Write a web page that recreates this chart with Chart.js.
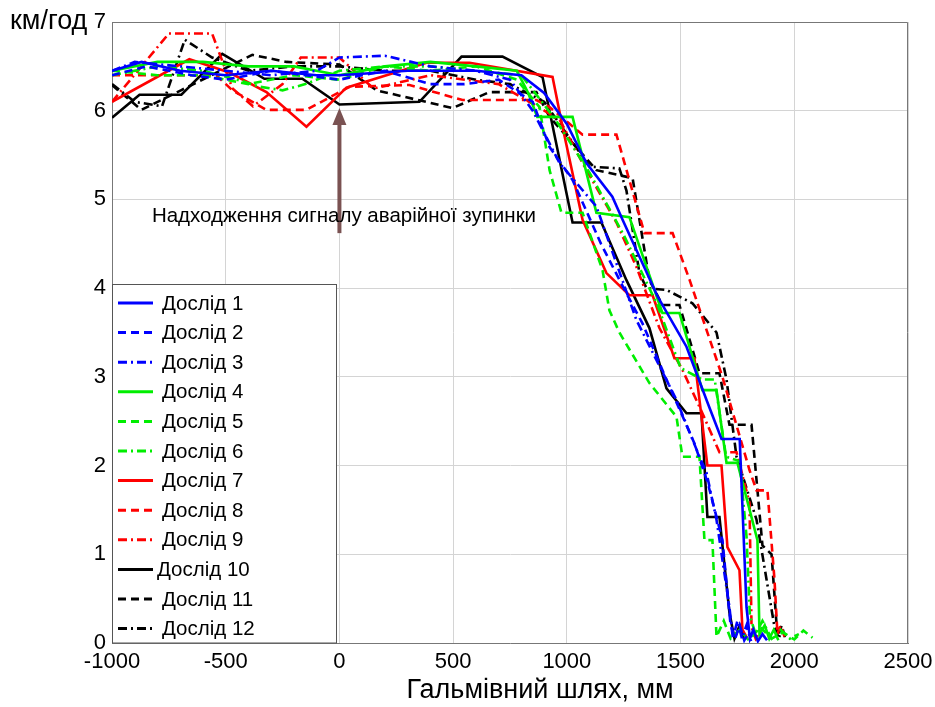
<!DOCTYPE html>
<html>
<head>
<meta charset="utf-8">
<script src="https://cdn.jsdelivr.net/npm/chart.js@4.4.0/dist/chart.umd.min.js"></script>
<style>
  body { margin: 0; background: #fff; }
</style>
</head>
<body>
<canvas id="brakeChart" width="935" height="707"></canvas>
<script>
// braking runs: [distance mm, speed km/h]
const trial1 = [[-1000,6.45],[-870,6.55],[-700,6.45],[-500,6.4],[-300,6.45],[-100,6.4],[0,6.4],[300,6.45],[600,6.45],[800,6.4],[900,6.2],[1000,5.85],[1086,5.41],[1200,5.03],[1245,4.77],[1400,3.9],[1526,3.34],[1620,2.7],[1680,2.3],[1760,2.3],[1790,0.4],[1805,0.05],[1820,0.15],[1840,0.02],[1860,0.1],[1880,0.03]];
const trial2 = [[-1000,6.4],[-850,6.5],[-650,6.4],[-500,6.35],[-300,6.45],[0,6.35],[200,6.45],[400,6.3],[550,6.3],[700,6.35],[850,6.1],[924,5.59],[1025,5.22],[1150,4.5],[1250,4.0],[1333,3.6],[1438,2.97],[1561,2.25],[1620,1.8],[1684,1.16],[1720,0.2],[1740,0.05],[1760,0.2],[1780,0.03],[1800,0.12]];
const trial3 = [[-1000,6.45],[-900,6.55],[-700,6.5],[-500,6.45],[-300,6.4],[-100,6.45],[0,6.6],[200,6.62],[400,6.5],[600,6.45],[750,6.35],[850,6.0],[968,5.41],[1130,4.92],[1306,3.64],[1482,2.74],[1583,2.1],[1614,1.92],[1658,1.39],[1715,0.4],[1730,0.05],[1750,0.25],[1770,0.05],[1790,0.2],[1810,0.02]];
const trial4 = [[-1000,6.45],[-800,6.55],[-600,6.55],[-400,6.5],[-200,6.5],[0,6.4],[200,6.5],[400,6.55],[600,6.5],[780,6.45],[830,6.2],[870,5.93],[1025,5.93],[1130,4.85],[1275,4.8],[1420,3.72],[1495,3.72],[1596,2.85],[1658,2.85],[1702,2.03],[1750,2.03],[1838,1.16],[1847,0.1],[1870,0.2],[1890,0.05],[1910,0.15],[1930,0.03]];
const trial5 = [[-1000,6.45],[-800,6.4],[-600,6.4],[-400,6.3],[-200,6.4],[0,6.35],[200,6.5],[400,6.45],[600,6.5],[780,6.35],[880,6.04],[924,5.33],[976,4.85],[1069,4.85],[1157,4.2],[1187,3.75],[1231,3.5],[1363,2.93],[1482,2.55],[1508,2.1],[1583,2.1],[1605,1.16],[1640,1.16],[1658,0.07],[1690,0.25],[1720,0.05],[1760,0.15],[1800,0.03],[1850,0.18],[1900,0.05],[1950,0.12],[2000,0.04],[2040,0.14],[2080,0.06]];
const trial6 = [[-1000,6.4],[-800,6.5],[-600,6.45],[-450,6.35],[-350,6.27],[-250,6.23],[-150,6.3],[0,6.45],[200,6.5],[400,6.5],[600,6.45],[800,6.4],[950,5.9],[1100,5.3],[1250,4.6],[1400,3.8],[1500,3.1],[1596,2.97],[1650,2.97],[1700,2.1],[1760,2.05],[1790,1.2],[1805,0.3],[1830,0.1],[1860,0.25],[1900,0.05],[1940,0.15],[1980,0.05],[2020,0.1]];
const trial7 = [[-1000,6.1],[-660,6.58],[-484,6.43],[-321,6.21],[-145,5.82],[31,6.26],[383,6.54],[572,6.54],[937,6.38],[981,5.82],[1069,4.77],[1174,4.17],[1275,3.92],[1377,3.92],[1473,3.21],[1561,3.21],[1618,2.0],[1680,2.0],[1706,1.08],[1759,0.82],[1772,0.15],[1794,0.05]];
const trial8 = [[-1000,6.4],[-541,6.4],[-471,6.23],[-321,6.01],[-145,6.01],[44,6.27],[308,6.29],[541,6.12],[866,6.12],[924,6.04],[1069,5.73],[1218,5.73],[1341,4.62],[1465,4.62],[1540,4.09],[1684,3.0],[1803,1.95],[1834,1.72],[1882,1.72],[1913,0.71],[1926,0.1],[1940,0.2],[1960,0.05]];
const trial9 = [[-1000,6.1],[-750,6.87],[-560,6.87],[-470,6.25],[-380,6.05],[-250,6.3],[-170,6.6],[0,6.6],[150,6.25],[400,6.4],[700,6.3],[968,5.9],[1069,5.41],[1218,4.74],[1306,4.24],[1407,3.55],[1508,3.08],[1596,2.59],[1671,2.15],[1746,2.15],[1803,1.58],[1812,0.18],[1830,0.05],[1850,0.15]];
const trial10 = [[-1000,5.92],[-879,6.18],[-695,6.18],[-515,6.64],[-330,6.36],[-163,6.36],[0,6.07],[352,6.1],[537,6.61],[717,6.61],[893,6.38],[1025,4.74],[1152,4.74],[1262,4.09],[1363,3.55],[1438,2.87],[1526,2.59],[1592,2.59],[1618,1.42],[1671,1.42],[1715,0.34],[1737,0.05],[1760,0.2],[1780,0.05]];
const trial11 = [[-1000,6.29],[-871,6.01],[-697,6.23],[-383,6.63],[-233,6.55],[0,6.52],[163,6.23],[497,6.03],[660,6.21],[866,6.21],[924,5.93],[1130,5.33],[1289,5.24],[1363,4.09],[1420,3.81],[1495,3.81],[1583,3.04],[1671,3.04],[1715,2.46],[1812,2.46],[1860,1.1],[1900,1.0],[1926,0.07],[1945,0.2],[1960,0.05]];
const trial12 = [[-1000,6.3],[-900,6.1],[-780,6.05],[-680,6.8],[-560,6.6],[-400,6.45],[-200,6.5],[0,6.5],[200,6.45],[400,6.45],[600,6.35],[750,6.3],[900,6.1],[1100,5.37],[1231,5.35],[1262,5.1],[1319,4.17],[1350,4.0],[1438,3.98],[1552,3.83],[1658,3.5],[1702,2.97],[1746,2.1],[1834,1.39],[1913,0.18],[1930,0.05],[1950,0.15]];

const trials = [trial1, trial2, trial3, trial4, trial5, trial6, trial7, trial8, trial9, trial10, trial11, trial12];
const trialLabels = ['Дослід 1','Дослід 2','Дослід 3','Дослід 4','Дослід 5','Дослід 6','Дослід 7','Дослід 8','Дослід 9','Дослід 10','Дослід 11','Дослід 12'];
const xTicks = [-1000, -500, 0, 500, 1000, 1500, 2000, 2500];
const yTicks = [0, 1, 2, 3, 4, 5, 6, 7];

const lineColors = ['#0000ff','#0000ff','#0000ff','#00ee00','#00ee00','#00ee00','#ff0000','#ff0000','#ff0000','#000000','#000000','#000000'];
const dashes = [[], [8, 5], [9, 4, 2, 4]];

const FONT = '"Liberation Sans", Arial, sans-serif';

const datasets = trials.map((t, i) => ({
  label: trialLabels[i],
  data: t.map(p => ({ x: p[0], y: p[1] })),
  borderColor: lineColors[i],
  borderWidth: 2.6,
  borderDash: dashes[i % 3],
  pointRadius: 0,
  showLine: true,
  tension: 0,
  fill: false
}));

// box, annotation, axis titles and the in-plot legend
const extras = {
  id: 'extras',
  afterDatasetsDraw(chart) {
    const { ctx, chartArea: a, scales } = chart;
    ctx.save();

    // top/right frame
    ctx.strokeStyle = '#777';
    ctx.lineWidth = 1;
    ctx.beginPath();
    ctx.moveTo(a.left, a.top + 0.5);
    ctx.lineTo(a.right - 0.5, a.top + 0.5);
    ctx.lineTo(a.right - 0.5, a.bottom);
    ctx.stroke();

    // arrow at x = 0
    const ax = scales.x.getPixelForValue(0);
    const yTip = scales.y.getPixelForValue(6.03);
    const yEnd = scales.y.getPixelForValue(4.62);
    ctx.strokeStyle = '#7a5252';
    ctx.fillStyle = '#7a5252';
    ctx.lineWidth = 4;
    ctx.beginPath();
    ctx.moveTo(ax, yEnd);
    ctx.lineTo(ax, yTip + 14);
    ctx.stroke();
    ctx.beginPath();
    ctx.moveTo(ax, yTip);
    ctx.lineTo(ax - 7, yTip + 17);
    ctx.lineTo(ax + 7, yTip + 17);
    ctx.closePath();
    ctx.fill();

    ctx.fillStyle = '#000';
    ctx.font = '20.5px ' + FONT;
    ctx.textAlign = 'center';
    ctx.textBaseline = 'middle';
    ctx.fillText('Надходження сигналу аварійної зупинки', scales.x.getPixelForValue(20), scales.y.getPixelForValue(4.81));

    // legend box
    const lx = a.left, ly = 284, lw = 224, lh = a.bottom - ly;
    ctx.fillStyle = '#fff';
    ctx.fillRect(lx, ly, lw, lh);
    ctx.strokeStyle = '#555';
    ctx.lineWidth = 1;
    ctx.strokeRect(lx + 0.5, ly + 0.5, lw, lh - 0.5);
    ctx.font = '20.5px ' + FONT;
    ctx.textAlign = 'left';
    chart.data.datasets.forEach((ds, i) => {
      const yy = 303 + i * 29.6;
      ctx.strokeStyle = ds.borderColor;
      ctx.lineWidth = 3;
      ctx.setLineDash(ds.borderDash);
      ctx.beginPath();
      ctx.moveTo(lx + 6, yy);
      ctx.lineTo(lx + 41, yy);
      ctx.stroke();
      ctx.setLineDash([]);
      ctx.fillStyle = '#000';
      ctx.fillText(ds.label, lx + (i === 9 ? 45 : 50), yy + 1);
    });

    // axis titles
    ctx.fillStyle = '#000';
    ctx.font = '27px ' + FONT;
    ctx.textAlign = 'left';
    ctx.fillText('км/год', 10, 22);
    ctx.font = '27px ' + FONT;
    ctx.textAlign = 'center';
    ctx.fillText('Гальмівний шлях, мм', 540, 691);
    ctx.restore();
  }
};

new Chart(document.getElementById('brakeChart').getContext('2d'), {
  type: 'scatter',
  data: { datasets },
  options: {
    responsive: false,
    animation: false,
    layout: { padding: { top: 22, right: 27, left: 0, bottom: 0 } },
    plugins: { legend: { display: false }, tooltip: { enabled: false } },
    scales: {
      x: {
        type: 'linear',
        min: -1000,
        max: 2500,
        afterBuildTicks: s => { s.ticks = xTicks.map(v => ({ value: v })); },
        afterFit: s => { s.height = 64; s.paddingLeft = 0; s.paddingRight = 0; },
        ticks: { color: '#000', font: { size: 22, family: FONT }, padding: 6, callback: v => String(v) },
        grid: { color: '#d4d4d4', drawTicks: false },
        border: { color: '#777' }
      },
      y: {
        min: 0,
        max: 7,
        afterBuildTicks: s => { s.ticks = yTicks.map(v => ({ value: v })); },
        afterFit: s => { s.width = 112; s.paddingTop = 0; s.paddingBottom = 0; },
        ticks: { color: '#000', font: { size: 22, family: FONT }, padding: 6, callback: v => String(v) },
        grid: { color: '#d4d4d4', drawTicks: false },
        border: { color: '#777' }
      }
    }
  },
  plugins: [extras]
});
</script>
</body>
</html>
